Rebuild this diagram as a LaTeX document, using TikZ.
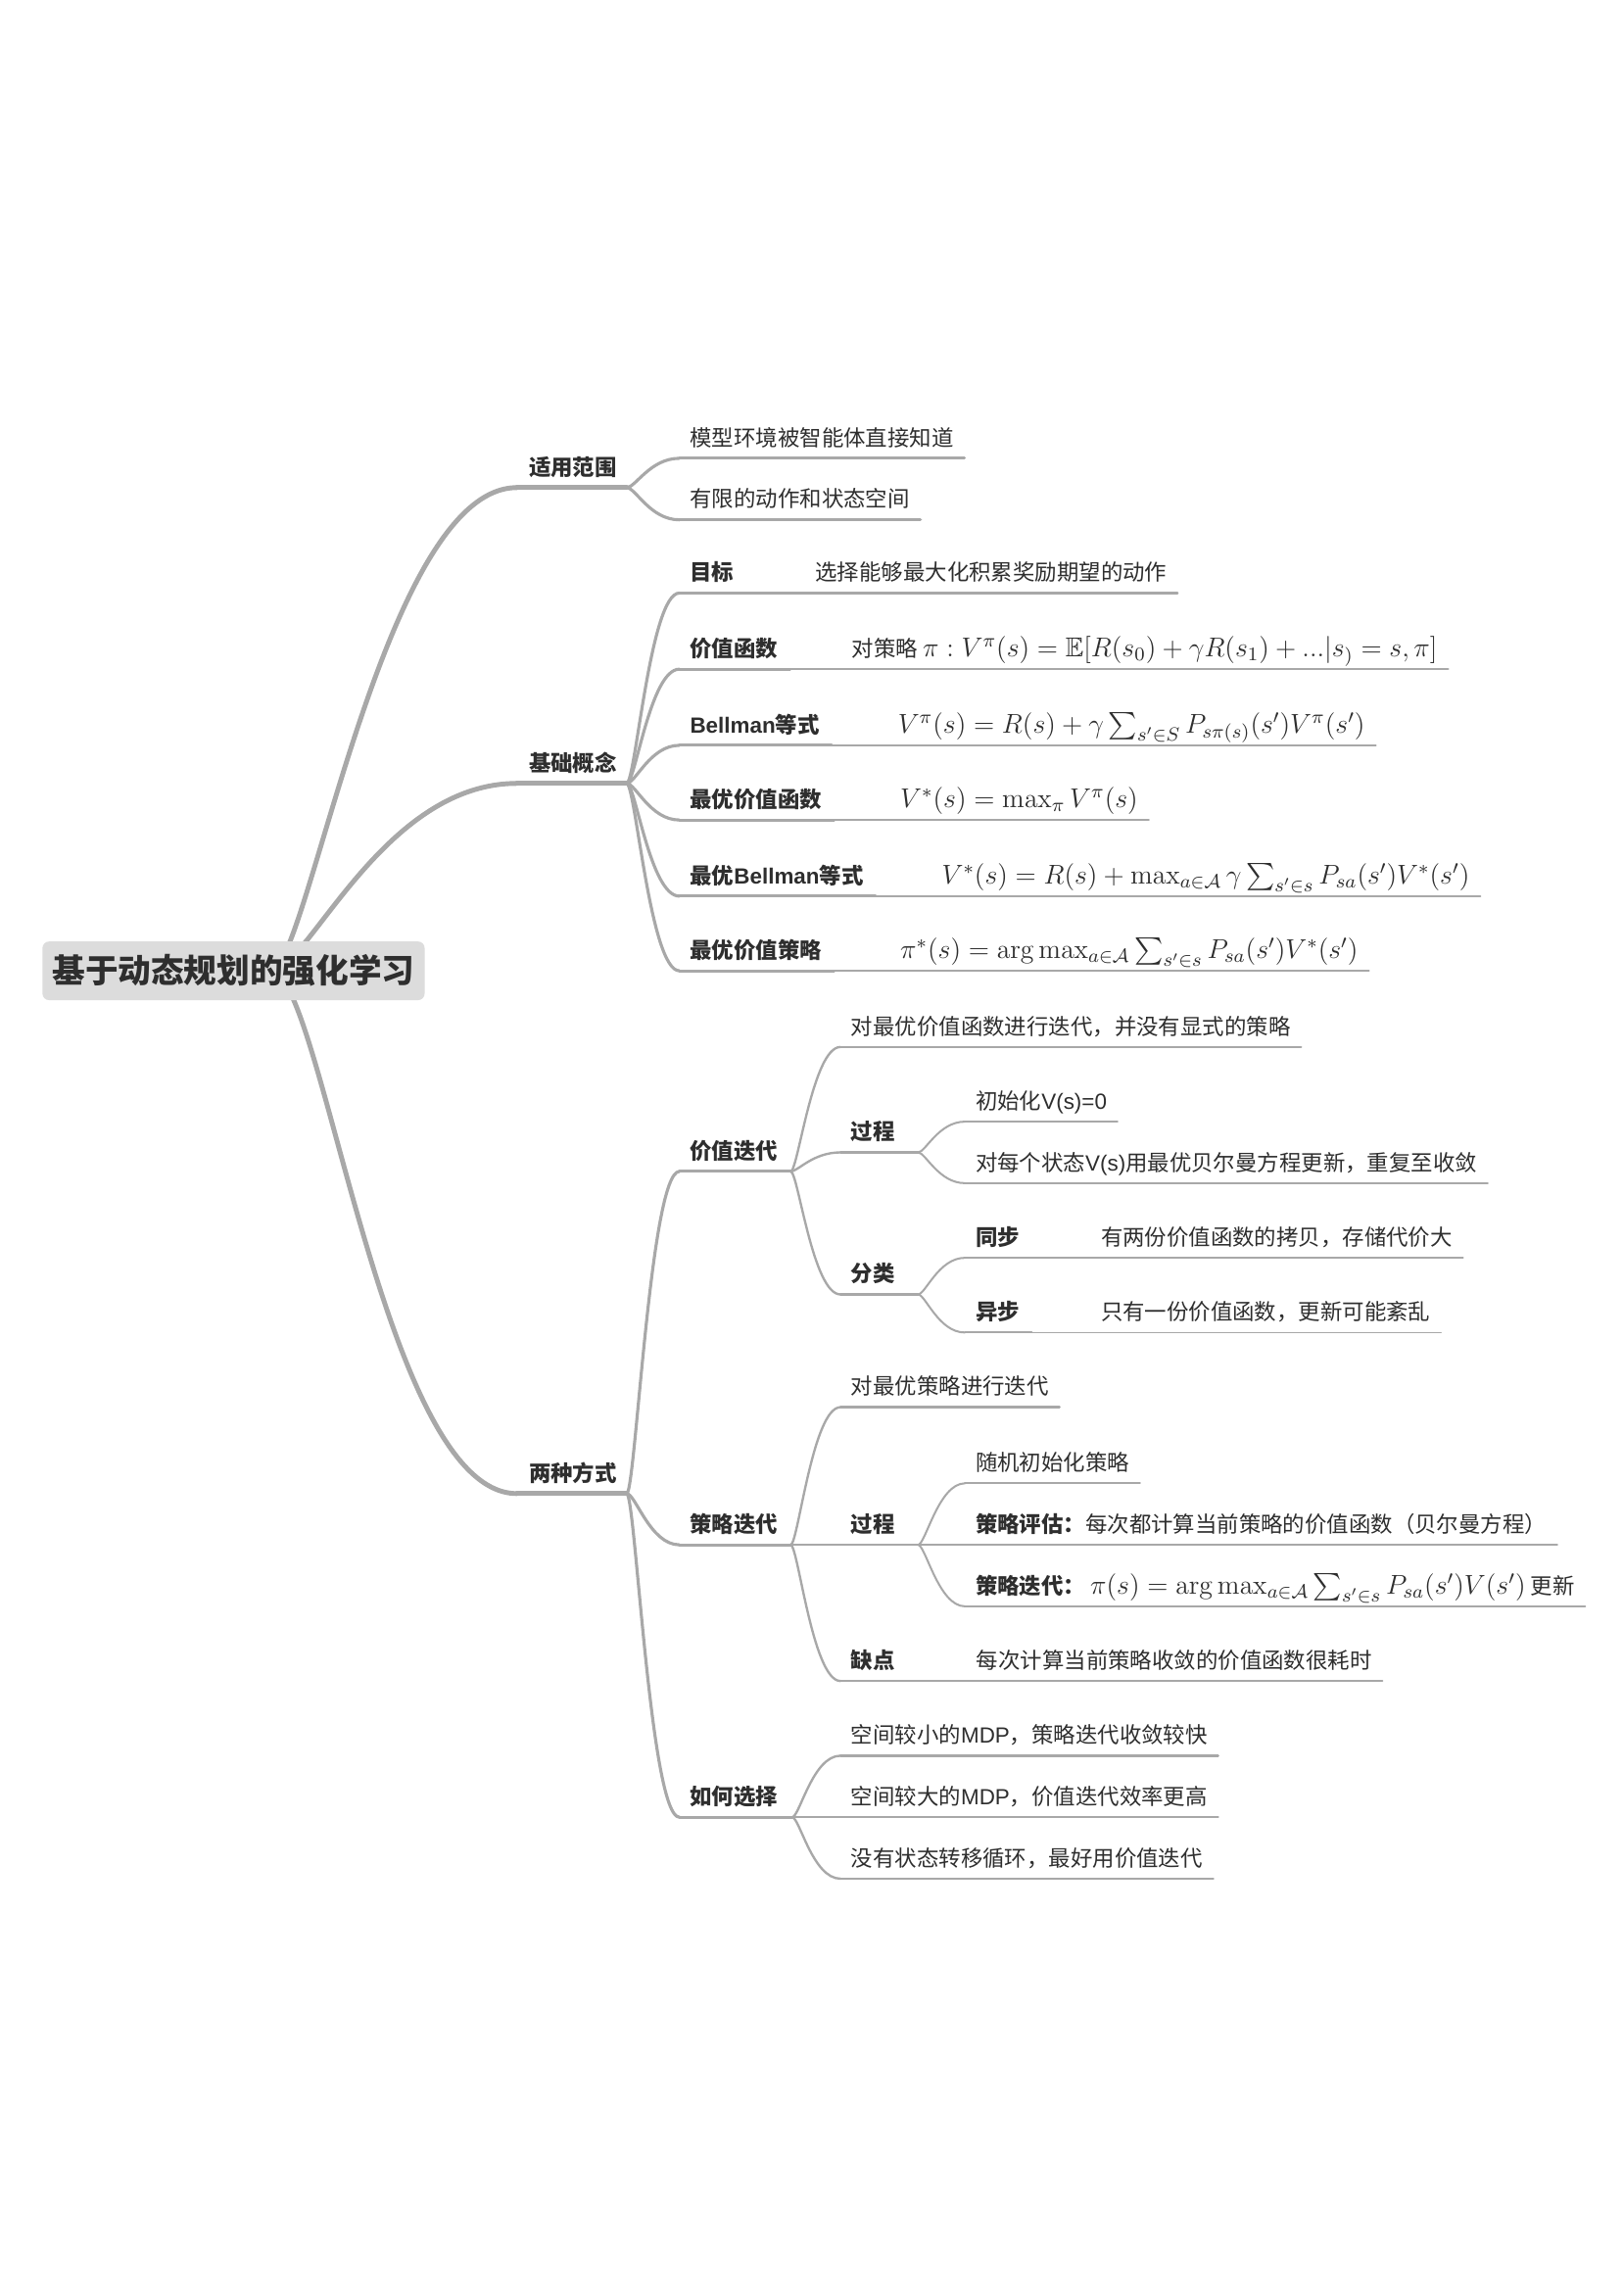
\RequirePackage{fix-cm}
\documentclass[tikz,border=0pt]{standalone}
\usepackage[no-math]{fontspec}
\usepackage{amssymb}
\setmainfont{Noto Sans CJK SC}
\newfontfamily\lat{Liberation Sans}
\definecolor{lc}{HTML}{A8A8A8}
\definecolor{tc}{HTML}{2E2E2E}
\definecolor{rootfill}{HTML}{DCDCDC}
\newcommand\fmath[1]{{\fontsize{12.4}{14.5}\selectfont$#1$}}
% topic: name, style, x of underline start, underline y, text x, text
\newcommand\tpc[6]{\coordinate (#1-s) at (#3,#4);\node[#2] (#1) at (#5,#4-8.5) {#6};}
% description on same line: label, name, gap, text
\newcommand\dsc[4]{\path (#1.base east) ++(#3,0) node[leaf] (#2) {#4};}
% underline of a leaf
\newcommand\ul[2]{\draw[#2] (#1-s) -- (#1.east |- #1-s) -- ++(7,0);}
% underline of label + description
\newcommand\uld[4]{\draw[#3] (#1-s) -- (#1.east |- #1-s) -- ++(8,0) coordinate (#1-m);
  \draw[#4] (#1-m) -- (#2.east |- #1-s) -- ++(7,0);}
% connector: width, parent, child, c1, c2
\newcommand\cn[5]{\draw[#1] (#2-e) .. controls +(#4,0) and +(#5,0) .. (#3-s);}
\begin{document}
\begin{tikzpicture}[x=0.6667pt,y=-0.6667pt,
  lbl/.style={anchor=base west,inner sep=0pt,font=\fontsize{10}{12}\selectfont\bfseries,text=tc},
  leaf/.style={anchor=base west,inner sep=0pt,font=\fontsize{10}{12}\selectfont,text=tc},
  ln/.style={draw=lc,line cap=round,line join=round},
  w1/.style={ln,line width=2.2pt},
  w2/.style={ln,line width=1.4pt},
  w3/.style={ln,line width=1.05pt},
  w4/.style={ln,line width=0.9pt},
  w5/.style={ln,line width=0.75pt},
  rootbox/.style={fill=rootfill,rounded corners=3pt,minimum width=174pt,minimum height=26.7pt,
    inner sep=0pt,text=tc,font=\fontsize{15}{18}\selectfont\bfseries}]
\fill[white] (0,0) rectangle (1108,1568);
\useasboundingbox (0,0) rectangle (1108,1568);

% ---------- topics ----------
\coordinate (root-e) at (185,663);
\tpc{A}{lbl}{353}{333}{361}{适用范围}
\coordinate (A-e) at (428,333);
\tpc{A1}{leaf}{464}{313}{471}{模型环境被智能体直接知道}
\tpc{A2}{leaf}{464}{355}{471}{有限的动作和状态空间}

\tpc{B}{lbl}{353}{535}{361}{基础概念}
\coordinate (B-e) at (428,535);
\tpc{B1}{lbl}{464}{405}{471}{目标}
\dsc{B1}{B1d}{55}{选择能够最大化积累奖励期望的动作}
\tpc{B2}{lbl}{464}{457}{471}{价值函数}
\dsc{B2}{B2d}{50}{对策略 \fmath{\pi : V^\pi(s) = \mathbb{E}[R(s_0)+\gamma R(s_1)+...|s_{)} = s,\pi]}}
\tpc{B3}{lbl}{464}{509}{471}{{\lat Bellman}等式}
\dsc{B3}{B3d}{53}{\fmath{V^\pi(s) = R(s) + \gamma\sum_{s'\in S} P_{s\pi(s)}(s')V^\pi(s')}}
\tpc{B4}{lbl}{464}{560}{471}{最优价值函数}
\dsc{B4}{B4d}{53}{\fmath{V^*(s) = \max_\pi V^\pi(s)}}
\tpc{B5}{lbl}{464}{612}{471}{最优{\lat Bellman}等式}
\dsc{B5}{B5d}{53}{\fmath{V^*(s) = R(s) + \max_{a\in\mathcal{A}}\gamma\sum_{s'\in s} P_{sa}(s')V^*(s')}}
\tpc{B6}{lbl}{464}{663}{471}{最优价值策略}
\dsc{B6}{B6d}{53}{\fmath{\pi^*(s) = \arg\max_{a\in\mathcal{A}}\sum_{s'\in s} P_{sa}(s')V^*(s')}}

\tpc{C}{lbl}{353}{1020}{361}{两种方式}
\coordinate (C-e) at (428,1020);
\tpc{C1}{lbl}{464}{800}{471}{价值迭代}
\coordinate (C1-e) at (540,800);
\tpc{C11}{leaf}{574}{715}{581}{对最优价值函数进行迭代，并没有显式的策略}
\tpc{C12}{lbl}{574}{787}{581}{过程}
\coordinate (C12-e) at (627,787);
\tpc{C121}{leaf}{659}{766}{666}{初始化{\lat V(s)=0}}
\tpc{C122}{leaf}{659}{808}{666}{对每个状态{\lat V(s)}用最优贝尔曼方程更新，重复至收敛}
\tpc{C13}{lbl}{574}{884}{581}{分类}
\coordinate (C13-e) at (627,884);
\tpc{C131}{lbl}{659}{859}{666}{同步}
\dsc{C131}{C131d}{55}{有两份价值函数的拷贝，存储代价大}
\tpc{C132}{lbl}{659}{910}{666}{异步}
\dsc{C132}{C132d}{55}{只有一份价值函数，更新可能紊乱}

\tpc{C2}{lbl}{464}{1055}{471}{策略迭代}
\coordinate (C2-e) at (540,1055);
\tpc{C21}{leaf}{574}{961}{581}{对最优策略进行迭代}
\tpc{C22}{lbl}{574}{1055}{581}{过程}
\coordinate (C22-e) at (627,1055);
\tpc{C221}{leaf}{659}{1013}{666}{随机初始化策略}
\tpc{C222}{leaf}{659}{1055}{666}{\textbf{策略评估：}每次都计算当前策略的价值函数（贝尔曼方程）}
\tpc{C223}{leaf}{659}{1097}{666}{\textbf{策略迭代：} \fmath{\pi(s) = \arg\max_{a\in\mathcal{A}}\sum_{s'\in s}P_{sa}(s')V(s')} 更新}
\tpc{C23}{lbl}{574}{1148}{581}{缺点}
\dsc{C23}{C23d}{55}{每次计算当前策略收敛的价值函数很耗时}

\tpc{C3}{lbl}{464}{1241}{471}{如何选择}
\coordinate (C3-e) at (541,1241);
\tpc{C31}{leaf}{574}{1199}{581}{空间较小的{\lat MDP}，策略迭代收敛较快}
\tpc{C32}{leaf}{574}{1241}{581}{空间较大的{\lat MDP}，价值迭代效率更高}
\tpc{C33}{leaf}{574}{1283}{581}{没有状态转移循环，最好用价值迭代}

% ---------- connectors ----------
\cn{w1}{root}{A}{25}{-92}
\cn{w1}{root}{B}{25}{-92}
\cn{w1}{root}{C}{35}{-92}
\draw[w1] (A-s) -- (A-e);
\draw[w1] (B-s) -- (B-e);
\draw[w1] (C-s) -- (C-e);

\cn{w2}{A}{A1}{6}{-20}
\cn{w2}{A}{A2}{6}{-20}
\ul{A1}{w2}
\ul{A2}{w2}

\foreach \k in {B1,B2,B3,B4,B5,B6}{\cn{w2}{B}{\k}{6}{-20}}
\uld{B1}{B1d}{w2}{w3}
\uld{B2}{B2d}{w2}{w3}
\uld{B3}{B3d}{w2}{w3}
\uld{B4}{B4d}{w2}{w3}
\uld{B5}{B5d}{w2}{w3}
\uld{B6}{B6d}{w2}{w3}

\foreach \k in {C1,C2,C3}{\cn{w2}{C}{\k}{6}{-20}}
\draw[w2] (C1-s) -- (C1-e);
\draw[w2] (C2-s) -- (C2-e);
\draw[w2] (C3-s) -- (C3-e);

\foreach \k in {C11,C12,C13}{\cn{w3}{C1}{\k}{5}{-19}}
\ul{C11}{w3}
\draw[w3] (C12-s) -- (C12-e);
\draw[w3] (C13-s) -- (C13-e);
\foreach \k in {C121,C122}{\cn{w4}{C12}{\k}{5}{-18}}
\ul{C121}{w4}
\ul{C122}{w4}
\foreach \k in {C131,C132}{\cn{w4}{C13}{\k}{5}{-18}}
\uld{C131}{C131d}{w4}{w5}
\uld{C132}{C132d}{w4}{w5}

\foreach \k in {C21,C22,C23}{\cn{w3}{C2}{\k}{5}{-19}}
\ul{C21}{w3}
\draw[w3] (C22-s) -- (C22-e);
\foreach \k in {C221,C222,C223}{\cn{w4}{C22}{\k}{5}{-18}}
\ul{C221}{w4}
\ul{C222}{w4}
\ul{C223}{w4}
\uld{C23}{C23d}{w3}{w4}

\foreach \k in {C31,C32,C33}{\cn{w3}{C3}{\k}{5}{-19}}
\ul{C31}{w3}
\ul{C32}{w3}
\ul{C33}{w3}

% ---------- root ----------
\node[rootbox] (root) at (159.5,663) {基于动态规划的强化学习};
\end{tikzpicture}
\end{document}
